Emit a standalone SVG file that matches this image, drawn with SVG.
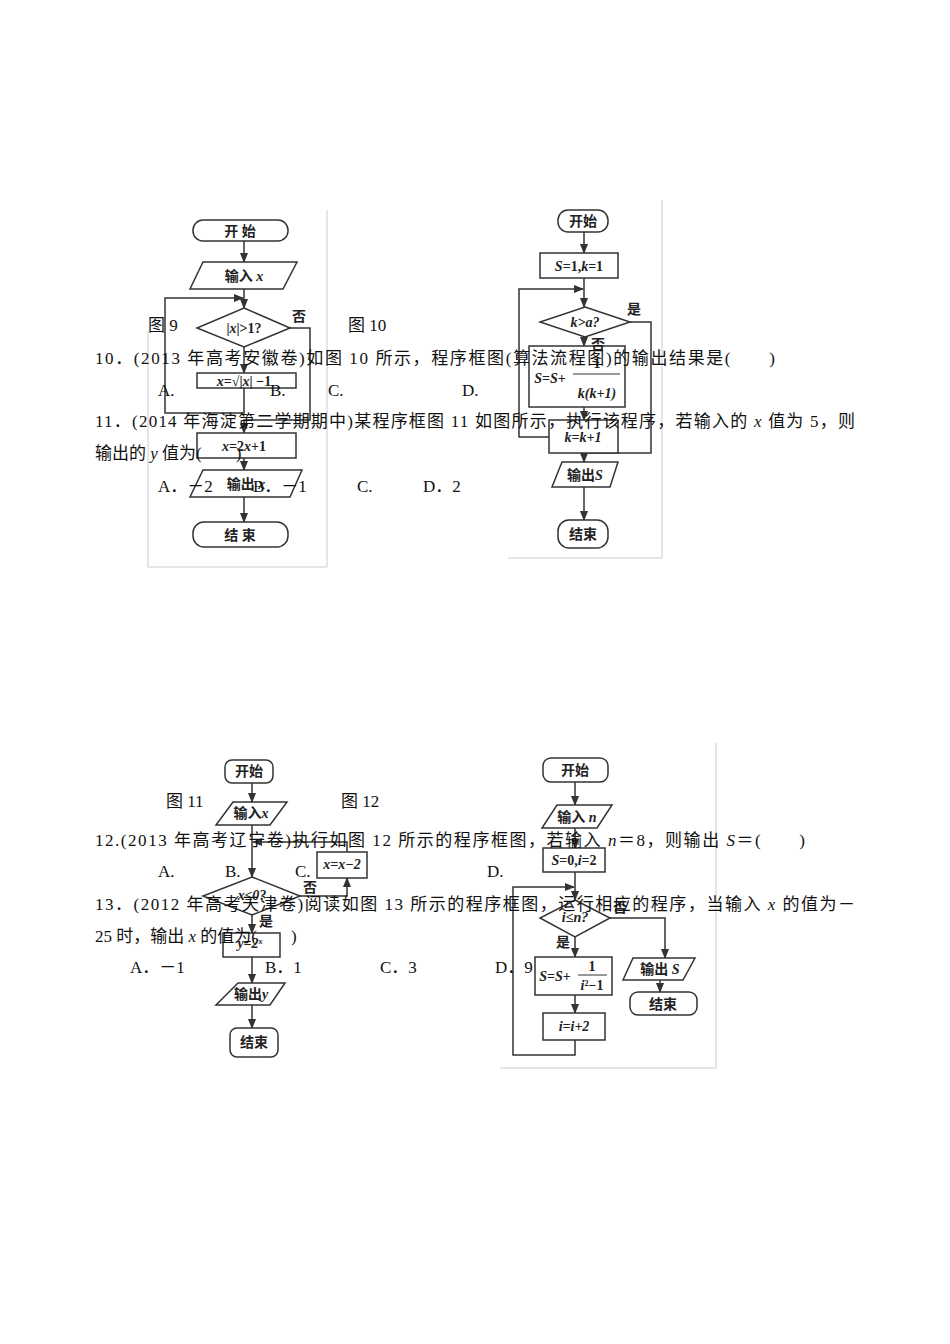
<svg xmlns="http://www.w3.org/2000/svg" width="950" height="1344" viewBox="0 0 950 1344">
<style>
.s{fill:#fff;stroke:#333;stroke-width:1.5}
.l{fill:none;stroke:#333;stroke-width:1.5}
.f{fill:none;stroke:#ccc;stroke-width:1}
.c{font-family:"Liberation Serif","Noto Sans CJK SC",serif;font-size:14px;font-weight:bold;fill:#222;text-anchor:middle}
.i{font-style:italic}
.t{font-family:"Liberation Serif","Noto Sans CJK SC",serif;font-size:17px;fill:#111}
</style>
<defs><marker id="a" viewBox="0 0 10 10" refX="9" refY="5" markerWidth="7" markerHeight="7" orient="auto"><path d="M0,1 L10,5 L0,9 z" fill="#333"/></marker></defs>
<rect width="950" height="1344" fill="#fff"/>
<g id="frames">
<path class="f" d="M148,330 V567 H327 V210"/>
<path class="f" d="M508,558 H662 V200"/>
<path class="f" d="M500,1068 H716 V743"/>
</g>
<g id="connectors">
<path class="l" marker-end="url(#a)" d="M244,241 V262"/>
<path class="l" marker-end="url(#a)" d="M244,289 V308"/>
<path class="l" marker-end="url(#a)" d="M244,347 V373"/>
<path class="l" marker-end="url(#a)" d="M244,388 V413 H165 V298 H243"/>
<path class="l" marker-end="url(#a)" d="M290,328 H310 V420 H244 V433"/>
<path class="l" marker-end="url(#a)" d="M244,458 V470"/>
<path class="l" marker-end="url(#a)" d="M244,497 V522"/>
<path class="l" marker-end="url(#a)" d="M584,232 V253"/>
<path class="l" marker-end="url(#a)" d="M584,278 V307"/>
<path class="l" marker-end="url(#a)" d="M549,437 H519 V289 H583"/>
<path class="l" marker-end="url(#a)" d="M584,337 V346"/>
<path class="l" marker-end="url(#a)" d="M584,407 V420"/>
<path class="l" marker-end="url(#a)" d="M630,322 H651 V453 H584 V462"/>
<path class="l" marker-end="url(#a)" d="M584,487 V520"/>
<path class="l" marker-end="url(#a)" d="M252,783 V802"/>
<path class="l" marker-end="url(#a)" d="M252,825 V877"/>
<path class="l" marker-end="url(#a)" d="M300,896 H347 V878"/>
<path class="l" marker-end="url(#a)" d="M347,852 V842 H253"/>
<path class="l" marker-end="url(#a)" d="M252,915 V933"/>
<path class="l" marker-end="url(#a)" d="M252,957 V983"/>
<path class="l" marker-end="url(#a)" d="M252,1005 V1028"/>
<path class="l" marker-end="url(#a)" d="M575,782 V805"/>
<path class="l" marker-end="url(#a)" d="M575,828 V848"/>
<path class="l" marker-end="url(#a)" d="M575,872 V900"/>
<path class="l" marker-end="url(#a)" d="M575,1040 V1055 H513 V887 H574"/>
<path class="l" marker-end="url(#a)" d="M610,918 H665 V958"/>
<path class="l" marker-end="url(#a)" d="M575,937 V957"/>
<path class="l" marker-end="url(#a)" d="M575,995 V1013"/>
<path class="l" marker-end="url(#a)" d="M660,980 V992"/>
</g>
<g id="f9-start"><rect class="s" x="193" y="220" width="95" height="21" rx="10"/><text class="c" x="240" y="236">开 始</text></g>
<g id="f9-in"><path class="s" d="M203,262 H297 L283,289 H190 Z"/><text class="c" x="244" y="281">输入 <tspan class="i">x</tspan></text></g>
<g id="f9-dec"><path class="s" d="M244,308 L290,328 L244,347 L197,328 Z"/><text class="c" x="244" y="333">|<tspan class="i">x</tspan>|&gt;1?</text></g>
<g id="f9-b1"><rect class="s" x="197" y="373" width="99" height="15"/><text class="c" x="244" y="386" font-size="12"><tspan class="i">x</tspan>=√|<tspan class="i">x</tspan>| −1</text></g>
<g id="f9-b2"><rect class="s" x="197" y="433" width="99" height="25"/><text class="c" x="244" y="451"><tspan class="i">x</tspan>=2<tspan class="i">x</tspan>+1</text></g>
<g id="f9-out"><path class="s" d="M203,470 H302 L290,497 H190 Z"/><text class="c" x="246" y="489">输出 <tspan class="i">x</tspan></text></g>
<g id="f9-end"><rect class="s" x="193" y="522" width="95" height="25" rx="11"/><text class="c" x="240" y="540">结 束</text></g>
<text class="c" x="299" y="321">否</text>
<g id="f10-start"><rect class="s" x="558" y="210" width="50" height="22" rx="10"/><text class="c" x="583" y="226">开始</text></g>
<g id="f10-init"><rect class="s" x="540" y="253" width="78" height="25"/><text class="c" x="579" y="271"><tspan class="i">S</tspan>=1,<tspan class="i">k</tspan>=1</text></g>
<g id="f10-dec"><path class="s" d="M585,307 L630,322 L585,337 L540,322 Z"/><text class="c i" x="585" y="327">k&gt;a?</text></g>
<g id="f10-b1"><rect class="s" x="529" y="346" width="96" height="61"/><text class="c" x="550" y="383"><tspan class="i">S</tspan>=<tspan class="i">S</tspan>+</text><text class="c" x="597" y="368">1</text><line x1="573" y1="374" x2="620" y2="374" stroke="#333"/><text class="c i" x="597" y="398">k(k+1)</text></g>
<g id="f10-b2"><rect class="s" x="549" y="420" width="69" height="33"/><text class="c i" x="583" y="442">k=k+1</text></g>
<g id="f10-out"><path class="s" d="M562,462 H618 L610,487 H552 Z"/><text class="c" x="585" y="480">输出<tspan class="i">S</tspan></text></g>
<g id="f10-end"><rect class="s" x="558" y="520" width="50" height="28" rx="11"/><text class="c" x="583" y="539">结束</text></g>
<text class="c" x="634" y="314">是</text><text class="c" x="598" y="349">否</text>
<g id="f11-start"><rect class="s" x="225" y="760" width="48" height="23" rx="7"/><text class="c" x="249" y="776" font-weight="normal">开始</text></g>
<g id="f11-in"><path class="s" d="M233,802 H287 L270,825 H216 Z"/><text class="c" x="251" y="818" font-size="12">输入<tspan class="i">x</tspan></text></g>
<g id="f11-dec"><path class="s" d="M252,877 L300,896 L252,915 L203,896 Z"/><text class="c i" x="252" y="900" font-size="11">x≤0?</text></g>
<g id="f11-b1"><rect class="s" x="317" y="852" width="50" height="26"/><text class="c i" x="342" y="869" font-size="11">x=x−2</text></g>
<g id="f11-b2"><rect class="s" x="223" y="933" width="57" height="24"/><text class="c i" x="250" y="948" font-size="11">y=2<tspan font-size="8" dy="-4">x</tspan></text></g>
<g id="f11-out"><path class="s" d="M238,983 H285 L270,1005 H216 Z"/><text class="c" x="251" y="999" font-size="12">输出<tspan class="i">y</tspan></text></g>
<g id="f11-end"><rect class="s" x="230" y="1028" width="48" height="29" rx="7"/><text class="c" x="254" y="1047" font-weight="normal">结束</text></g>
<text class="c" x="310" y="892" font-size="12" font-weight="normal">否</text><text class="c" x="266" y="926" font-size="13" font-weight="normal">是</text>
<g id="f12-start"><rect class="s" x="543" y="758" width="65" height="24" rx="8"/><text class="c" x="575" y="775">开始</text></g>
<g id="f12-in"><path class="s" d="M557,805 H612 L597,828 H542 Z"/><text class="c" x="577" y="822">输入 <tspan class="i">n</tspan></text></g>
<g id="f12-init"><rect class="s" x="543" y="848" width="62" height="24"/><text class="c" x="574" y="865"><tspan class="i">S</tspan>=0,<tspan class="i">i</tspan>=2</text></g>
<g id="f12-dec"><path class="s" d="M575,900 L610,918 L575,937 L540,918 Z"/><text class="c i" x="575" y="922" font-size="12">i≤n?</text></g>
<g id="f12-b1"><rect class="s" x="535" y="957" width="77" height="38"/><text class="c" x="555" y="981" font-size="13"><tspan class="i">S</tspan>=<tspan class="i">S</tspan>+</text><text class="c" x="592" y="971" font-size="13">1</text><line x1="578" y1="975" x2="607" y2="975" stroke="#333"/><text class="c" x="592" y="990" font-size="12"><tspan class="i">i</tspan><tspan font-size="8" dy="-4">2</tspan><tspan dy="4">−1</tspan></text></g>
<g id="f12-b2"><rect class="s" x="543" y="1013" width="62" height="27"/><text class="c i" x="574" y="1031">i=i+2</text></g>
<g id="f12-out"><path class="s" d="M633,958 H695 L683,980 H623 Z"/><text class="c" x="660" y="974">输出 <tspan class="i">S</tspan></text></g>
<g id="f12-end"><rect class="s" x="630" y="992" width="67" height="23" rx="8"/><text class="c" x="663" y="1009">结束</text></g>
<text class="c" x="620" y="912">否</text><text class="c" x="563" y="947">是</text>
<g id="text">
<text class="t" x="148" y="331">图 9</text><text class="t" x="348" y="331">图 10</text>
<text class="t" x="95" y="364" textLength="680">10．(2013 年高考安徽卷)如图 10 所示，程序框图(算法流程图)的输出结果是(　　)</text>
<text class="t" x="158" y="396">A.</text><text class="t" x="270" y="396">B.</text><text class="t" x="328" y="396">C.</text><text class="t" x="462" y="396">D.</text>
<text class="t" x="95" y="427" textLength="760">11．(2014 年海淀第二学期期中)某程序框图 11 如图所示，执行该程序，若输入的 <tspan font-style="italic">x</tspan> 值为 5，则</text>
<text class="t" x="95" y="459">输出的 <tspan font-style="italic">y</tspan> 值为(　　)</text>
<text class="t" x="158" y="492">A．－2</text><text class="t" x="253" y="492">B．－1</text><text class="t" x="357" y="492">C.</text><text class="t" x="423" y="492">D．2</text>
<text class="t" x="166" y="807">图 11</text><text class="t" x="341" y="807">图 12</text>
<text class="t" x="95" y="846" textLength="710">12.(2013 年高考辽宁卷)执行如图 12 所示的程序框图，若输入 <tspan font-style="italic">n</tspan>＝8，则输出 <tspan font-style="italic">S</tspan>＝(　　)</text>
<text class="t" x="158" y="877">A.</text><text class="t" x="225" y="877">B.</text><text class="t" x="295" y="877">C.</text><text class="t" x="487" y="877">D.</text>
<text class="t" x="95" y="910" textLength="760">13．(2012 年高考天津卷)阅读如图 13 所示的程序框图，运行相应的程序，当输入 <tspan font-style="italic">x</tspan> 的值为－</text>
<text class="t" x="95" y="942">25 时，输出 <tspan font-style="italic">x</tspan> 的值为(　　)</text>
<text class="t" x="130" y="973">A．－1</text><text class="t" x="265" y="973">B．1</text><text class="t" x="380" y="973">C．3</text><text class="t" x="495" y="973">D．9</text>
</g>
</svg>
